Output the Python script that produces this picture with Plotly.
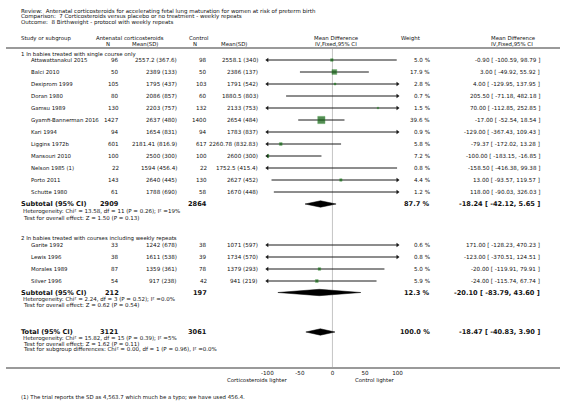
import math
import plotly.graph_objects as go

W, H = 566, 404

# ---------------- data ----------------
title_lines = [
    "Review:  Antenatal corticosteroids for accelerating fetal lung maturation for women at risk of preterm birth",
    "Comparison:  7 Corticosteroids versus placebo or no treatment - weekly repeats",
    "Outcome:  8 Birthweight - protocol with weekly repeats",
]

g1_label = "1 In babies treated with single course only"
g1_studies = ["Attawattanakul 2015", "Balci 2010", "Dexiprom 1999", "Doran 1980", "Gamsu 1989",
              "Gyamfi-Bannerman 2016", "Kari 1994", "Liggins 1972b", "Mansouri 2010",
              "Nelson 1985 (1)", "Porto 2011", "Schutte 1980"]
g1_exp_n = [96, 50, 105, 80, 130, 1427, 94, 601, 100, 22, 143, 61]
g1_exp_msd = ["2557.2 (367.6)", "2389 (133)", "1795 (437)", "2086 (857)", "2203 (757)", "2637 (480)",
              "1654 (831)", "2181.41 (816.9)", "2500 (300)", "1594 (456.4)", "2640 (445)", "1788 (690)"]
g1_ctl_n = [98, 50, 103, 60, 132, 1400, 94, 617, 100, 22, 130, 58]
g1_ctl_msd = ["2558.1 (340)", "2386 (137)", "1791 (542)", "1880.5 (803)", "2133 (753)", "2654 (484)",
              "1783 (837)", "2260.78 (832.83)", "2600 (300)", "1752.5 (415.4)", "2627 (452)", "1670 (448)"]
g1_weight = [5.0, 17.9, 2.8, 0.7, 1.5, 39.6, 0.9, 5.8, 7.2, 0.8, 4.4, 1.2]
g1_md = [-0.90, 3.00, 4.00, 205.50, 70.00, -17.00, -129.00, -79.37, -100.00, -158.50, 13.00, 118.00]
g1_lo = [-100.59, -49.92, -129.95, -71.18, -112.85, -52.54, -367.43, -172.02, -183.15, -416.38, -93.57, -90.03]
g1_hi = [98.79, 55.92, 137.95, 482.18, 252.85, 18.54, 109.43, 13.28, -16.85, 99.38, 119.57, 326.03]
g1_sub = dict(exp_n=2909, ctl_n=2864, weight=87.7, md=-18.24, lo=-42.12, hi=5.65)
g1_het = ["Heterogeneity: Chi² = 13.58, df = 11 (P = 0.26); I² =19%",
          "Test for overall effect: Z = 1.50 (P = 0.13)"]

g2_label = "2 In babies treated with courses including weekly repeats"
g2_studies = ["Garite 1992", "Lewis 1996", "Morales 1989", "Silver 1996"]
g2_exp_n = [33, 38, 87, 54]
g2_exp_msd = ["1242 (678)", "1611 (538)", "1359 (361)", "917 (238)"]
g2_ctl_n = [38, 39, 78, 42]
g2_ctl_msd = ["1071 (597)", "1734 (570)", "1379 (293)", "941 (219)"]
g2_weight = [0.6, 0.8, 5.0, 5.9]
g2_md = [171.00, -123.00, -20.00, -24.00]
g2_lo = [-128.23, -370.51, -119.91, -115.74]
g2_hi = [470.23, 124.51, 79.91, 67.74]
g2_sub = dict(exp_n=212, ctl_n=197, weight=12.3, md=-20.10, lo=-83.79, hi=43.60)
g2_het = ["Heterogeneity: Chi² = 2.24, df = 3 (P = 0.52); I² =0.0%",
          "Test for overall effect: Z = 0.62 (P = 0.54)"]

total = dict(exp_n=3121, ctl_n=3061, weight=100.0, md=-18.47, lo=-40.83, hi=3.90)
total_het = ["Heterogeneity: Chi² = 15.82, df = 15 (P = 0.39); I² =5%",
             "Test for overall effect: Z = 1.62 (P = 0.11)",
             "Test for subgroup differences: Chi² = 0.00, df = 1 (P = 0.96), I² =0.0%"]

x_ticks = [-100, -50, 0, 50, 100]
x_range = [-100, 100]
left_label = "Corticosteroids lighter"
right_label = "Control lighter"
footnote = "(1) The trial reports the SD as 4,563.7 which much be a typo; we have used 456.4."

# ---------------- layout helpers ----------------
FONT = "DejaVu Sans"
TXT = "#111111"
FS = 5.6       # table text
FS_NAME = 5.4  # study names / labels
FS_SMALL = 5.5
FS_BOLD = 6.6
ann = []


def text(x, y, s, anchor="left", size=FS, bold=False):
    ann.append(dict(x=x / W, y=y, xref="paper", yref="y", text=("<b>%s</b>" % s) if bold else s,
                    showarrow=False, xanchor=anchor, yanchor="middle",
                    font=dict(family=FONT, size=size, color=TXT)))


# columns (pixels)
X_LEFT = 13
X_STUDY = 23
X_EN = 118
X_EMSD = 177
X_CN = 207
X_CMSD = 260
X_W = 435
X_CI = 548

fig = go.Figure()

# titles
for i, s in enumerate(title_lines):
    text(X_LEFT, 11 + i * 5.7, s, size=FS_SMALL)

# headers
text(X_LEFT, 38, "Study or subgroup", size=FS_NAME)
text(90, 38, "Antenatal corticosteroids", size=FS_NAME)
text(104, 43.5, "N", anchor="center", size=FS_NAME)
text(157, 43.5, "Mean(SD)", anchor="right", size=FS_NAME)
text(185, 38, "Control", size=FS_NAME)
text(193, 43.5, "N", anchor="center", size=FS_NAME)
text(218, 43.5, "Mean(SD)", size=FS_NAME)
text(338, 38, "Mean Difference", anchor="center", size=FS_NAME)
text(337, 43.5, "IV,Fixed,95% CI", anchor="center", size=FS_NAME)
text(413, 38, "Weight", anchor="center", size=FS_NAME)
text(518, 38, "Mean Difference", anchor="center", size=FS_NAME)
text(517, 43.5, "IV,Fixed,95% CI", anchor="center", size=FS_NAME)


def ci_str(md, lo, hi):
    return "%.2f [ %.2f, %.2f ]" % (md, lo, hi)


def draw_group(y0, studies, en, emsd, cn, cmsd, w, md, lo, hi):
    ys = [y0 + 12 * i for i in range(len(studies))]
    for i, s in enumerate(studies):
        y = ys[i]
        text(X_STUDY, y, s, size=FS_NAME)
        text(X_EN, y, str(en[i]), anchor="right")
        text(X_EMSD, y, emsd[i], anchor="right")
        text(X_CN, y, str(cn[i]), anchor="right")
        text(X_CMSD, y, cmsd[i], anchor="right")
        text(X_W, y, "%.1f %%" % w[i], anchor="right")
        text(X_CI, y, ci_str(md[i], lo[i], hi[i]), anchor="right")
        # CI line (clipped by the axis)
        fig.add_trace(go.Scatter(x=[lo[i], hi[i]], y=[y, y], mode="lines",
                                 line=dict(color="#1a1a1a", width=1), hoverinfo="skip"))
        # arrows when CI leaves the range
        if lo[i] < x_range[0]:
            fig.add_trace(go.Scatter(x=[x_range[0]], y=[y], mode="markers", cliponaxis=False,
                                     marker=dict(symbol="triangle-left", size=4, color="#1a1a1a"),
                                     hoverinfo="skip"))
        if hi[i] > x_range[1]:
            fig.add_trace(go.Scatter(x=[x_range[1]], y=[y], mode="markers", cliponaxis=False,
                                     marker=dict(symbol="triangle-right", size=4, color="#1a1a1a"),
                                     hoverinfo="skip"))
    # squares sized by weight
    fig.add_trace(go.Scatter(x=md, y=ys, mode="markers",
                             marker=dict(symbol="square", size=[max(1.5, 1.15 * math.sqrt(v)) for v in w],
                                         color="#0d5e0d", line=dict(color="#2a8a2a", width=0.5)),
                             hoverinfo="skip"))
    return ys


def diamond(y, d, half=3.2):
    fig.add_trace(go.Scatter(x=[d["lo"], d["md"], d["hi"], d["md"], d["lo"]],
                             y=[y, y - half, y, y + half, y], mode="lines", fill="toself",
                             fillcolor="#000000", line=dict(color="#000000", width=0.5),
                             hoverinfo="skip"))


def summary_row(y, label, d):
    text(X_LEFT, y, label, size=FS_BOLD, bold=True)
    text(X_EN, y, str(d["exp_n"]), anchor="right", size=FS_BOLD, bold=True)
    text(X_CN, y, str(d["ctl_n"]), anchor="right", size=FS_BOLD, bold=True)
    text(X_W, y, "%.1f %%" % d["weight"], anchor="right", size=FS_BOLD, bold=True)
    text(X_CI, y, ci_str(d["md"], d["lo"], d["hi"]), anchor="right", size=FS_BOLD, bold=True)
    diamond(y, d)


# group 1
text(X_LEFT, 54, g1_label, size=FS_NAME)
draw_group(60, g1_studies, g1_exp_n, g1_exp_msd, g1_ctl_n, g1_ctl_msd,
           g1_weight, g1_md, g1_lo, g1_hi)
summary_row(204, "Subtotal (95% CI)", g1_sub)
for i, s in enumerate(g1_het):
    text(15, 211.5 + i * 6, s, size=FS_SMALL)

# group 2
text(X_LEFT, 238, g2_label, size=FS_NAME)
draw_group(245, g2_studies, g2_exp_n, g2_exp_msd, g2_ctl_n, g2_ctl_msd,
           g2_weight, g2_md, g2_lo, g2_hi)
summary_row(292.5, "Subtotal (95% CI)", g2_sub)
for i, s in enumerate(g2_het):
    text(15, 299 + i * 6, s, size=FS_SMALL)

# total
summary_row(332, "Total (95% CI)", total)
for i, s in enumerate(total_het):
    text(15, 338 + i * 5.5, s, size=FS_SMALL)

# axis labels and footnote
text(289, 380.5, left_label, anchor="right", size=FS_NAME)
text(355, 380.5, right_label, size=FS_NAME)
text(X_LEFT, 397, footnote, size=FS_NAME)

shapes = [
    dict(type="line", xref="paper", yref="y", x0=0, x1=1, y0=48, y1=48,
         line=dict(color="#9a9a9a", width=2)),
    dict(type="line", xref="paper", yref="y", x0=0, x1=1, y0=368, y1=368,
         line=dict(color="#9a9a9a", width=2)),
    dict(type="line", xref="x", yref="y", x0=0, x1=0, y0=49, y1=367,
         line=dict(color="#c4c4c4", width=1), layer="below"),
]

fig.update_layout(
    width=W, height=H,
    margin=dict(l=0, r=0, t=0, b=0),
    paper_bgcolor="white", plot_bgcolor="rgba(0,0,0,0)",
    showlegend=False,
    annotations=ann,
    shapes=shapes,
    xaxis=dict(domain=[267 / W, 400 / W], range=x_range, tickvals=x_ticks,
               ticktext=[str(v) for v in x_ticks], ticks="inside", ticklen=2, tickwidth=1,
               tickcolor="#666666", showgrid=False, zeroline=False, showline=False,
               anchor="free", position=1 - 368.5 / H,
               tickfont=dict(family=FONT, size=FS, color=TXT)),
    yaxis=dict(domain=[0, 1], range=[H, 0], visible=False, showgrid=False, zeroline=False),
)

fig.write_html("out.html", config={"displayModeBar": False},
               post_script="document.body.style.margin='0';")
